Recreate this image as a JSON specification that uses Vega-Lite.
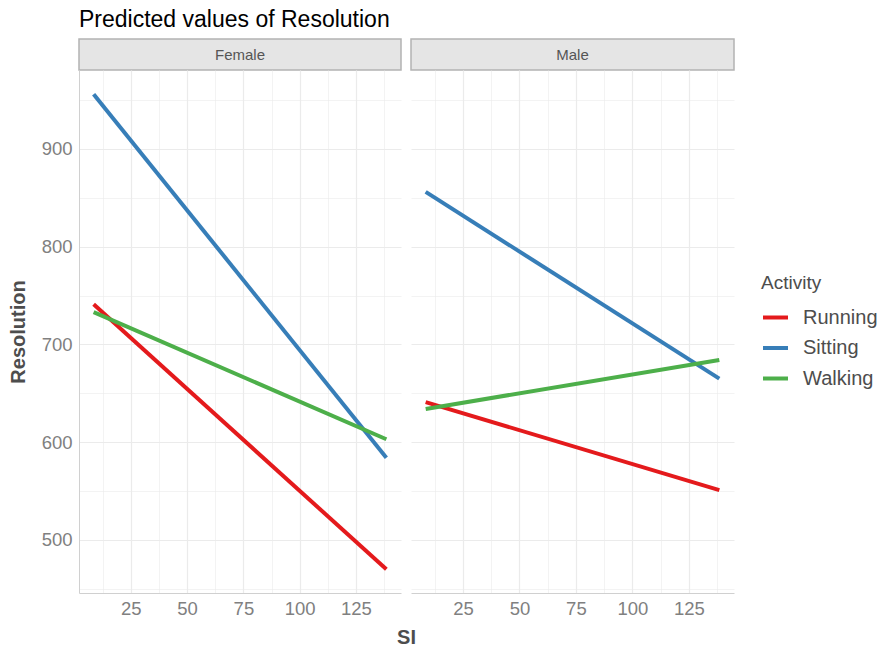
{
  "$schema": "https://vega.github.io/schema/vega-lite/v6.json",
  "background": "white",
  "padding": {"left": 8, "top": 8, "right": 5, "bottom": 5},
  "config": {
    "font": "Liberation Sans",
    "view": {"stroke": null},
    "concat": {"spacing": 10},
    "axis": {
      "gridColor": "#ebebeb",
      "ticks": false,
      "labelColor": "#808080",
      "labelFontSize": 18.5,
      "titleColor": "#4d4d4d",
      "titleFontSize": 20,
      "titleFontWeight": "bold",
      "domainColor": "#d0d0d0"
    },
    "legend": {
      "titleFontSize": 19,
      "titleFontWeight": "normal",
      "titleColor": "#4d4d4d",
      "labelFontSize": 20,
      "labelColor": "#4d4d4d",
      "symbolType": "stroke",
      "symbolSize": 625,
      "symbolStrokeWidth": 4,
      "rowPadding": 5.5,
      "titlePadding": 10,
      "labelOffset": 13
    }
  },
  "datasets": {
    "preds": [
      {"Gender": "Female", "Activity": "Running", "SI": 8.5, "Resolution": 741},
      {"Gender": "Female", "Activity": "Running", "SI": 138.5, "Resolution": 470},
      {"Gender": "Female", "Activity": "Sitting", "SI": 8.5, "Resolution": 956},
      {"Gender": "Female", "Activity": "Sitting", "SI": 138.5, "Resolution": 584},
      {"Gender": "Female", "Activity": "Walking", "SI": 8.5, "Resolution": 733},
      {"Gender": "Female", "Activity": "Walking", "SI": 138.5, "Resolution": 603},
      {"Gender": "Male", "Activity": "Running", "SI": 8.5, "Resolution": 641},
      {"Gender": "Male", "Activity": "Running", "SI": 138.5, "Resolution": 551},
      {"Gender": "Male", "Activity": "Sitting", "SI": 8.5, "Resolution": 856},
      {"Gender": "Male", "Activity": "Sitting", "SI": 138.5, "Resolution": 665},
      {"Gender": "Male", "Activity": "Walking", "SI": 8.5, "Resolution": 634},
      {"Gender": "Male", "Activity": "Walking", "SI": 138.5, "Resolution": 684}
    ]
  },
  "columns": 2,
  "bounds": "flush",
  "spacing": {"column": 10, "row": 0},
  "resolve": {"scale": {"color": "shared"}, "legend": {"color": "shared"}},
  "concat": [
    {
      "width": 322,
      "height": 31,
      "title": {"text": "Predicted values of Resolution", "anchor": "start", "frame": "group", "fontSize": 23, "fontWeight": "normal", "color": "#000000", "offset": 7},
      "view": {"fill": "#e5e5e5", "stroke": "#b3b3b3", "strokeWidth": 1.5},
      "data": {"values": [{"Gender": "Female"}]},
      "mark": {"type": "text", "fontSize": 15, "color": "#555555", "align": "center", "baseline": "middle"},
      "encoding": {"text": {"field": "Gender"}}
    },
    {
      "width": 323,
      "height": 31,
      "view": {"fill": "#e5e5e5", "stroke": "#b3b3b3", "strokeWidth": 1.5},
      "data": {"values": [{"Gender": "Male"}]},
      "mark": {"type": "text", "fontSize": 15, "color": "#555555", "align": "center", "baseline": "middle"},
      "encoding": {"text": {"field": "Gender"}}
    },
    {
      "width": 322,
      "height": 523,
      "data": {"name": "preds"},
      "transform": [{"filter": "datum.Gender === 'Female'"}],
      "mark": {"type": "line", "strokeWidth": 4, "strokeCap": "butt"},
      "encoding": {
        "x": {
          "field": "SI", "type": "quantitative",
          "scale": {"domain": [2.0, 145.0], "nice": false, "zero": false},
          "axis": {
            "values": [12.5, 25, 37.5, 50, 62.5, 75, 87.5, 100, 112.5, 125, 137.5],
            "labelExpr": "datum.value % 25 === 0 ? datum.label : ''",
            "gridWidth": {"condition": {"test": "datum.value % 25 === 0", "value": 1.2}, "value": 0.6},
            "title": "SI", "titleX": 327, "titleAlign": "center", "titlePadding": 10, "labelPadding": 6,
            "domain": true
          }
        },
        "y": {
          "field": "Resolution", "type": "quantitative",
          "scale": {"domain": [445.7, 980.7], "nice": false, "zero": false},
          "axis": {
            "values": [450, 500, 550, 600, 650, 700, 750, 800, 850, 900, 950],
            "labelExpr": "datum.value % 100 === 0 ? datum.label : ''",
            "gridWidth": {"condition": {"test": "datum.value % 100 === 0", "value": 1.2}, "value": 0.6},
            "title": "Resolution", "titlePadding": 13, "labelPadding": 7,
            "domain": true
          }
        },
        "color": {
          "field": "Activity", "type": "nominal",
          "scale": {"domain": ["Running", "Sitting", "Walking"], "range": ["#E41A1C", "#377EB8", "#4DAF4A"]},
          "legend": {"title": "Activity", "orient": "none", "legendX": 682, "legendY": 235}
        },
        "detail": {"field": "Activity"}
      }
    },
    {
      "width": 323,
      "height": 523,
      "data": {"name": "preds"},
      "transform": [{"filter": "datum.Gender === 'Male'"}],
      "mark": {"type": "line", "strokeWidth": 4, "strokeCap": "butt"},
      "encoding": {
        "x": {
          "field": "SI", "type": "quantitative",
          "scale": {"domain": [2.0, 145.0], "nice": false, "zero": false},
          "axis": {
            "values": [12.5, 25, 37.5, 50, 62.5, 75, 87.5, 100, 112.5, 125, 137.5],
            "labelExpr": "datum.value % 25 === 0 ? datum.label : ''",
            "gridWidth": {"condition": {"test": "datum.value % 25 === 0", "value": 1.2}, "value": 0.6},
            "title": null, "labelPadding": 6,
            "domain": true
          }
        },
        "y": {
          "field": "Resolution", "type": "quantitative",
          "scale": {"domain": [445.7, 980.7], "nice": false, "zero": false},
          "axis": {
            "values": [450, 500, 550, 600, 650, 700, 750, 800, 850, 900, 950],
            "labels": false,
            "labelPadding": 0,
            "minExtent": 0,
            "maxExtent": 0,
            "gridWidth": {"condition": {"test": "datum.value % 100 === 0", "value": 1.2}, "value": 0.6},
            "title": null,
            "domain": false
          }
        },
        "color": {
          "field": "Activity", "type": "nominal",
          "scale": {"domain": ["Running", "Sitting", "Walking"], "range": ["#E41A1C", "#377EB8", "#4DAF4A"]},
          "legend": {"title": "Activity", "orient": "none", "legendX": 682, "legendY": 235}
        },
        "detail": {"field": "Activity"}
      }
    }
  ]
}
